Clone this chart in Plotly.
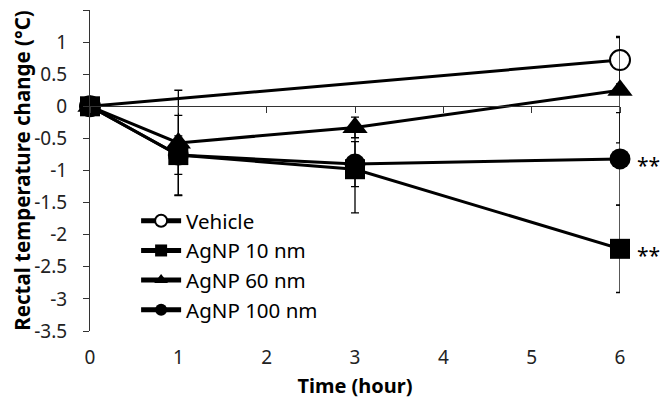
import plotly.graph_objects as go

time_h = [0, 1, 3, 6]
vehicle = [0, None, None, 0.72]
vehicle_err = [0, 0, 0, 0.37]
agnp10 = [0, -0.76, -0.98, -2.22]
agnp10_err = [0, 0.62, 0.68, 0.68]
agnp60 = [0, -0.57, -0.33, 0.25]
agnp60_err = [0, 0.82, 0.16, 0.82]
agnp100 = [0, -0.76, -0.90, -0.82]
agnp100_err = [0, 0.30, 0.35, 0.72]

y_ticks = [1.5, 1, 0.5, 0, -0.5, -1, -1.5, -2, -2.5, -3, -3.5]
y_ticktext = ["1.5", "1", "0.5", "0", "-0.5", "-1", "-1.5", "-2", "-2.5", "-3", "-3.5"]
x_ticks = [0, 1, 2, 3, 4, 5, 6]

FONT = "Noto Sans"

def err(arr):
    return dict(type="data", array=arr, color="black", thickness=1.3, width=4, visible=True)

fig = go.Figure()
fig.add_trace(go.Scatter(x=time_h, y=vehicle, name="Vehicle", mode="lines+markers",
                         connectgaps=True, error_y=err(vehicle_err), cliponaxis=False,
                         line=dict(color="black", width=3),
                         marker=dict(symbol="circle", size=20, color="white",
                                     line=dict(color="black", width=2)),
                         legendgroup="a", legendrank=1))
fig.add_trace(go.Scatter(x=time_h, y=agnp60, name="AgNP 60 nm", mode="lines+markers",
                         error_y=err(agnp60_err), cliponaxis=False,
                         line=dict(color="black", width=3),
                         marker=dict(symbol="triangle-up", size=22, color="black"),
                         legendgroup="c", legendrank=3))
fig.add_trace(go.Scatter(x=time_h, y=agnp100, name="AgNP 100 nm", mode="lines+markers",
                         error_y=err(agnp100_err), cliponaxis=False,
                         line=dict(color="black", width=3),
                         marker=dict(symbol="circle", size=21, color="black"),
                         legendgroup="d", legendrank=4))
fig.add_trace(go.Scatter(x=time_h, y=agnp10, name="AgNP 10 nm", mode="lines+markers",
                         error_y=err(agnp10_err), cliponaxis=False,
                         line=dict(color="black", width=3),
                         marker=dict(symbol="square", size=20, color="black"),
                         legendgroup="b", legendrank=2))
# dummy trace to show x axis at y=0
fig.add_trace(go.Scatter(x=[0, 6], y=[None, None], xaxis="x2", showlegend=False, hoverinfo="skip"))

for yv in (agnp100[3], agnp10[3]):
    fig.add_annotation(x=6, y=yv, text="**", showarrow=False, xanchor="left", xshift=15,
                       yshift=-6, font=dict(family=FONT, size=21, color="black"))

# page body has an 8px default margin; figure is sized so the plot lands where the reference has it
fig.update_layout(
    width=661, height=395,
    margin=dict(l=82, r=48.5, t=2, b=72, autoexpand=False),
    plot_bgcolor="white", paper_bgcolor="white",
    font=dict(family=FONT, size=19, color="black"),
    showlegend=True,
    legend=dict(x=0.087, y=0.405, xanchor="left", yanchor="top",
                bgcolor="rgba(0,0,0,0)", font=dict(family=FONT, size=20.5, color="black"),
                itemsizing="constant", itemwidth=40, tracegroupgap=0,
                traceorder="grouped"),
    xaxis=dict(range=[0, 6], tickvals=x_ticks, showline=False, showgrid=False,
               zeroline=False, ticks="", ticklabelstandoff=13, automargin=False,
               tickfont=dict(family=FONT, size=19, color="#222"),
               title=dict(text="<b>Time (hour)</b>", font=dict(family=FONT, size=20, color="black"),
                          standoff=9)),
    xaxis2=dict(range=[0, 6], overlaying="x", anchor="free", position=0.7,
                tickvals=x_ticks, showticklabels=False, ticks="outside", ticklen=6,
                tickcolor="#333", showline=True, linecolor="#333", linewidth=1,
                showgrid=False, zeroline=False, automargin=False),
    yaxis=dict(range=[-3.5, 1.5], tickvals=y_ticks, ticktext=y_ticktext,
               showline=True, linecolor="#333", linewidth=1, ticks="outside", ticklen=6,
               tickcolor="#333", showgrid=False, zeroline=False, ticklabelstandoff=12,
               automargin=False,
               tickfont=dict(family=FONT, size=19, color="#222"),
               title=dict(text="<b>Rectal temperature change (°C)</b>",
                          font=dict(family=FONT, size=20.5, color="black"), standoff=0)),
)

fig.write_html("out.html")
